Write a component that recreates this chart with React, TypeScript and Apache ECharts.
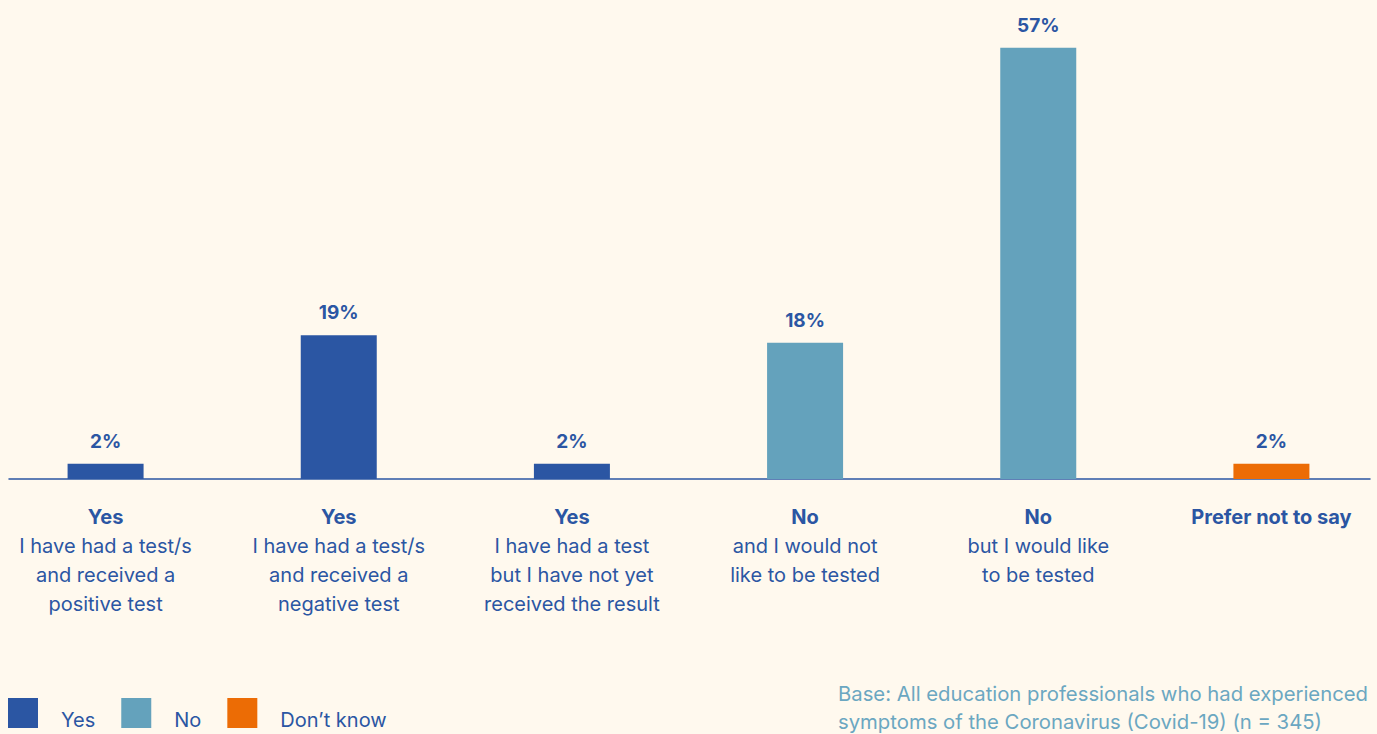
import React, { useEffect, useRef } from "react";
import * as echarts from "echarts";

const heads = ["Yes", "Yes", "Yes", "No", "No", "Prefer not to say"];
const subs = [
  "I have had a test/s\nand received a\npositive test",
  "I have had a test/s\nand received a\nnegative test",
  "I have had a test\nbut I have not yet\nreceived the result",
  "and I would not\nlike to be tested",
  "but I would like\nto be tested",
  "",
];
const categories = heads.map((h, i) => (subs[i] ? h + "\n" + subs[i] : h));
const yesValues = [2, 19, 2, null, null, null];
const noValues = [null, null, null, 18, 57, null];
const dontKnowValues = [null, null, null, null, null, 2];
const seriesNames = ["Yes", "No", "Don\u2019t know"];
const colors = ["#2B56A3", "#64A2BC", "#EC6C05"];
const footnote =
  "Base: All education professionals who had experienced\nsymptoms of the Coronavirus (Covid-19) (n = 345)";

const FONT = "Inter, 'Open Sans', sans-serif";
const TEXT = "#2B56A3";

export default function App() {
  const ref = useRef<HTMLDivElement>(null);
  useEffect(() => {
    if (!ref.current) return;
    const chart = echarts.init(ref.current, null, { renderer: "svg" });
    const label = {
      show: true,
      position: "top",
      distance: 13,
      formatter: "{c}%",
      fontFamily: FONT,
      fontSize: 19,
      fontWeight: "bold",
      color: TEXT,
    };
    const mk = (name: string, data: (number | null)[], color: string) => ({
      name,
      type: "bar",
      data,
      barWidth: 76,
      barGap: "-100%",
      itemStyle: { color },
      label,
      xAxisIndex: 0,
      yAxisIndex: 0,
    });
    chart.setOption({
      animation: false,
      backgroundColor: "#FFF9EE",
      textStyle: { fontFamily: FONT },
      title: {
        text: footnote,
        left: 838,
        top: 679,
        padding: 0,
        textStyle: {
          fontFamily: FONT,
          fontSize: 20.3,
          fontWeight: "normal",
          color: "#6BA7C1",
          lineHeight: 28,
        },
      },
      legend: {
        left: 8,
        top: 698,
        padding: 0,
        icon: "rect",
        itemWidth: 30,
        itemHeight: 30,
        itemGap: 26,
        data: seriesNames,
        formatter: (name: string) => (name === "No" ? "{u|" + name + "}" : "{t|" + name + "}"),
        textStyle: {
          fontFamily: FONT,
          fontSize: 20,
          color: TEXT,
          padding: [0, 0, 0, 18],
          rich: {
            t: { fontFamily: FONT, fontSize: 20, color: TEXT, padding: [14, 0, 0, 0] },
            u: { fontFamily: FONT, fontSize: 20, color: TEXT, padding: [14, 12, 0, 0] },
          },
        },
      },
      grid: [
        { left: -11, width: 1399, top: 25, bottom: 255, outerBoundsMode: "none", containLabel: false },
        { left: 9, right: 7, top: 25, bottom: 255, outerBoundsMode: "none", containLabel: false },
      ],
      xAxis: [
        {
          type: "category",
          gridIndex: 0,
          data: categories,
          axisLine: { show: false },
          axisTick: { show: false },
          axisLabel: {
            interval: 0,
            margin: 23,
            formatter: (v: string) => {
              const lines = v.split("\n");
              return ["{h|" + lines[0] + "}"]
                .concat(lines.slice(1).map((l) => "{n|" + l + "}"))
                .join("\n");
            },
            rich: {
              h: { fontFamily: FONT, fontSize: 20, fontWeight: "bold", color: TEXT, lineHeight: 29 },
              n: { fontFamily: FONT, fontSize: 20, color: TEXT, lineHeight: 29 },
            },
          },
        },
        {
          type: "value",
          gridIndex: 1,
          min: 0,
          max: 1,
          axisLine: { show: true, lineStyle: { color: TEXT, width: 1.5 } },
          axisTick: { show: false },
          axisLabel: { show: false },
          splitLine: { show: false },
        },
      ],
      yAxis: [
        { type: "value", gridIndex: 0, min: 0, max: 60, show: false },
        { type: "value", gridIndex: 1, min: 0, max: 1, show: false },
      ],
      series: [
        mk(seriesNames[0], yesValues, colors[0]),
        mk(seriesNames[1], noValues, colors[1]),
        mk(seriesNames[2], dontKnowValues, colors[2]),
      ],
    });
    return () => chart.dispose();
  }, []);
  return (
    <div
      ref={ref}
      style={{ position: "absolute", left: 0, top: 0, width: 1377, height: 734 }}
    />
  );
}
